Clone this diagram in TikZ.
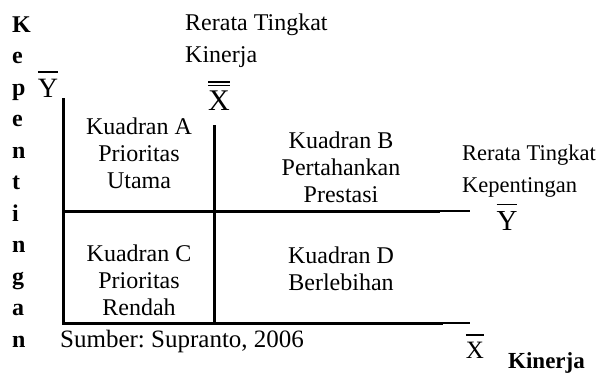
\documentclass[tikz,border=0pt]{standalone}
\usepackage{fontspec}
\setmainfont{Liberation Serif}
\frenchspacing
\newcommand\ovbar[1]{\leavevmode\vbox{\hrule height 1.3pt\kern 6pt\hbox{#1}}}
\newcommand\ovbarr[1]{\leavevmode\vbox{\hrule height 1.3pt\kern 2.5pt\hrule height 1.3pt\kern 4pt\hbox{#1}}}
\begin{document}
\begin{tikzpicture}[x=1pt,y=-1pt,
  lbl/.style={inner sep=0pt, font=\fontsize{24}{27}\selectfont},
  quad/.style={lbl, align=center, anchor=base},
  vert/.style={inner sep=0pt, font=\fontsize{24}{27}\selectfont\bfseries, anchor=base west},
  axis/.style={line width=3pt},
  ext/.style={line width=1.3pt}]
\useasboundingbox (0,0) rectangle (600,375);
% vertical axis title
\foreach \c [count=\i] in {K,e,p,e,n,t,i,n,g,a,n}
  \node[vert] (v\i) at (12,{32+(\i-1)*31.5}) {\c};
% axis lines
\coordinate (ytop) at (63,98);
\coordinate (o) at (63,323);
\coordinate (bm) at (443,323);
\coordinate (be) at (470,323);
\coordinate (hl) at (63,211);
\coordinate (hm) at (440,211);
\coordinate (he) at (470,211);
\coordinate (mtop) at (214,125);
\coordinate (mbot) at (214,323);
\draw[axis] (ytop) -- (o) -- (bm);
\draw[ext] (bm) -- (be);
\draw[axis] (hl) -- (hm);
\draw[ext] (hm) -- (he);
\draw[axis] (mtop) -- (mbot);
% labels (base anchor of a multi-line node = baseline of its last line)
\node[lbl, anchor=base west] (rk1) at (185,30) {Rerata Tingkat};
\node[lbl, anchor=base west] (rk2) at (185,62) {Kinerja};
\node[inner sep=0pt, font=\fontsize{28}{30}\selectfont, anchor=base] (ybar) at (48,97) {\ovbar{Y}};
\node[inner sep=0pt, font=\fontsize{30}{32}\selectfont, anchor=base] (xbarbar) at (219,110) {\ovbarr{X}};
\node[quad] (qa) at (139,188) {Kuadran A\\Prioritas\\Utama};
\node[quad] (qb) at (341,202) {Kuadran B\\Pertahankan\\Prestasi};
\node[quad] (qc) at (139,315) {Kuadran C\\Prioritas\\Rendah};
\node[quad] (qd) at (341,290) {Kuadran D\\Berlebihan};
\begin{scope}
  \clip (440,120) rectangle (600,198);
  \node[lbl, anchor=base west, font=\fontsize{22.5}{32}\selectfont, align=left] (rp) at (462,192) {Rerata Tingkat\\Kepentingan};
\end{scope}
\node[inner sep=0pt, font=\fontsize{29}{31}\selectfont, anchor=base] (ybar2) at (507,230) {\ovbar{Y}};
\node[inner sep=0pt, font=\fontsize{25}{27}\selectfont, anchor=base] (xbar2) at (475,358) {\ovbar{X}};
\node[lbl, anchor=base west, font=\fontsize{23}{26}\selectfont\bfseries] (kin) at (508,368) {Kinerja};
\node[lbl, anchor=base west, font=\fontsize{25}{27}\selectfont] (src) at (60,347) {Sumber: Supranto, 2006};
\end{tikzpicture}
\end{document}
